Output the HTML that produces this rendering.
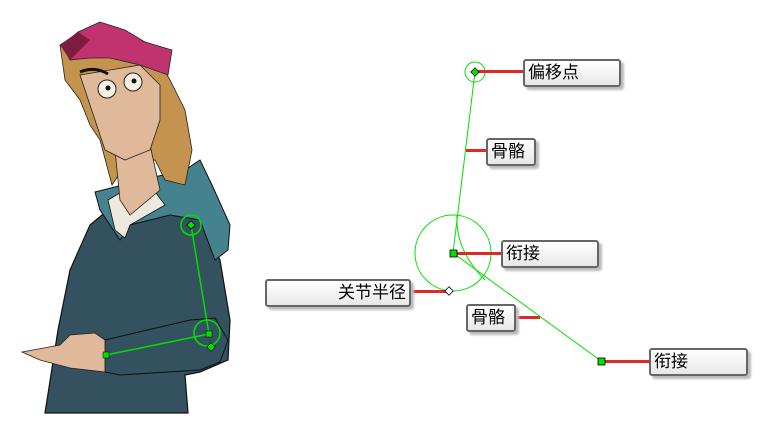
<!DOCTYPE html>
<html><head><meta charset="utf-8"><style>
html,body{margin:0;padding:0;background:#fff;width:764px;height:427px;overflow:hidden}
.box{position:absolute;background:linear-gradient(#fff,#e8e8e8);border:2px solid #666;border-radius:3px;box-shadow:3px 3px 2px #bbb;font-family:"Liberation Sans","Noto Sans CJK SC",sans-serif;font-size:17px;color:#000;line-height:24px;box-sizing:border-box;padding:0 3px}
.red{position:absolute;height:3px;background:#e02828}
</style></head><body>
<svg width="764" height="427" style="position:absolute;left:0;top:0">
<path d="M45,413 L58,330 L70,270 L90,225 L120,200 L160,195 L200,215 L220,260 L230,320 L228,360 L200,372 L185,375 L188,413 Z" fill="#33515e" stroke="#111" stroke-width="1.2"/>
<path d="M95,192 L150,178 L185,170 L200,160 L212,185 L230,225 L228,250 L215,260 L200,220 L170,215 L130,225 L120,240 L100,210 Z" fill="#44838d" stroke="#111" stroke-width="1"/>
<path d="M108,200 L125,190 L150,185 L165,205 L130,225 L125,238 L115,230 Z" fill="#eee9df" stroke="#111" stroke-width="0.8"/>
<path d="M60,45 L75,35 L100,40 L155,55 L170,80 L185,110 L192,150 L185,185 L165,180 L155,160 L125,165 L112,185 L100,140 L90,125 L80,100 L65,80 Z" fill="#c4944f" stroke="#222" stroke-width="0.8"/>
<path d="M115,150 L150,145 L160,190 L130,215 L120,200 Z" fill="#dfb99a" stroke="#222" stroke-width="0.8"/>
<path d="M80,75 L140,65 L160,85 L160,120 L150,150 L125,160 L105,150 L95,120 Z" fill="#dfb99a" stroke="#222" stroke-width="0.8"/>
<circle cx="107" cy="89" r="9" fill="#f6efe2" stroke="#222"/><circle cx="133" cy="82" r="9" fill="#f6efe2" stroke="#222"/>
<circle cx="108" cy="88" r="2.5" fill="#111"/><circle cx="134" cy="81" r="2.5" fill="#111"/>
<path d="M80,72 Q95,66 108,74" stroke="#111" stroke-width="3" fill="none"/>
<path d="M62,45 L78,32 L100,22 L125,30 L145,42 L172,50 L168,75 L140,65 L110,58 L90,58 L70,60 Z" fill="#c0336f" stroke="#222" stroke-width="0.8"/>
<path d="M60,45 L78,32 L90,40 L70,60 Z" fill="#7e1c3f"/>
<path d="M105,340 L190,320 L215,318 L228,340 L220,362 L200,370 L120,375 L105,372 Z" fill="#33515e" stroke="#111" stroke-width="1"/>
<path d="M22,352 L60,345 L70,335 L95,333 L105,340 L105,372 L70,368 L40,360 Z" fill="#dfb99a" stroke="#222" stroke-width="0.8"/>
<g stroke="#00e000" fill="none" stroke-width="1.5">
<circle cx="191" cy="225" r="10"/><circle cx="207" cy="333" r="13"/>
<line x1="191" y1="225" x2="209" y2="334"/><line x1="209" y1="334" x2="106" y2="355"/>
</g>
<rect x="188" y="222" width="6" height="6" fill="#00e000" stroke="#000" stroke-width="0.7" transform="rotate(45 191 225)"/>
<rect x="206" y="331" width="6" height="6" fill="#00e000" stroke="#000" stroke-width="0.5"/>
<rect x="208" y="344" width="6" height="6" fill="#00e000" stroke="#000" stroke-width="0.5" transform="rotate(45 211 347)"/>
<rect x="103" y="352" width="6" height="6" fill="#00e000" stroke="#000" stroke-width="0.5"/>
<g stroke="#00e000" fill="none" stroke-width="1">
<circle cx="475" cy="72" r="10"/>
<line x1="475" y1="72" x2="453" y2="253"/>
<circle cx="453" cy="253" r="38"/>
<path d="M457,215 Q455,250 485,280" />
<line x1="453" y1="253" x2="601" y2="361"/>
</g>
</svg>
<div class="red" style="left:475px;top:70px;width:48px"></div>
<div class="red" style="left:466px;top:149px;width:20px"></div>
<div class="red" style="left:453px;top:252px;width:48px"></div>
<div class="red" style="left:412px;top:290px;width:37px"></div>
<div class="red" style="left:516px;top:316px;width:24px"></div>
<div class="red" style="left:601px;top:360px;width:49px"></div>
<svg width="764" height="427" style="position:absolute;left:0;top:0">
<rect x="472" y="69" width="6" height="6" fill="#00e000" stroke="#000" stroke-width="0.7" transform="rotate(45 475 72)"/>
<rect x="450" y="250" width="7" height="7" fill="#00e000" stroke="#000" stroke-width="0.8"/>
<rect x="446" y="288" width="6" height="6" fill="#fff" stroke="#000" stroke-width="0.8" transform="rotate(45 449 291)"/>
<rect x="598" y="358" width="7" height="7" fill="#00e000" stroke="#000" stroke-width="0.8"/>
</svg>
<div class="box" style="left:523px;top:59px;width:98px;height:28px">偏移点</div>
<div class="box" style="left:486px;top:138px;width:50px;height:28px">骨骼</div>
<div class="box" style="left:501px;top:240px;width:98px;height:28px">衔接</div>
<div class="box" style="left:265px;top:279px;width:146px;height:28px;text-align:right">关节半径</div>
<div class="box" style="left:466px;top:304px;width:50px;height:28px">骨骼</div>
<div class="box" style="left:649px;top:348px;width:99px;height:28px">衔接</div>
</body></html>
